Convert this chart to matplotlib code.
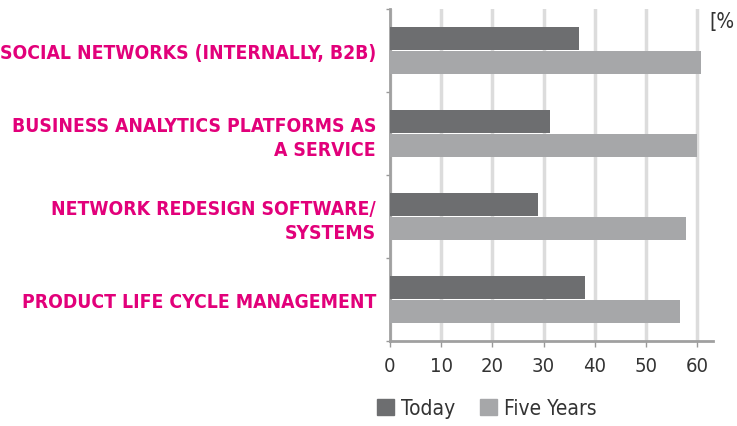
import matplotlib.pyplot as plt
import numpy as np
from matplotlib.patches import Patch

categories = [
    "SOCIAL NETWORKS (INTERNALLY, B2B)",
    "BUSINESS ANALYTICS PLATFORMS AS\nA SERVICE",
    "NETWORK REDESIGN SOFTWARE/\nSYSTEMS",
    "PRODUCT LIFE CYCLE MANAGEMENT",
]
today = [37.0, 31.2, 29.0, 38.0]
five_years = [60.7, 60.0, 57.8, 56.7]
series_names = ["Today", "Five Years"]
x_ticks = [0, 10, 20, 30, 40, 50, 60]

MAGENTA = "#e2007a"
DARK = "#6d6e70"
LIGHT = "#a6a7a9"
TEXT = "#333333"
FONT = ["DejaVu Sans", "Liberation Sans"]

fig = plt.figure(figsize=(7.37, 4.27), dpi=100)
ax = fig.add_axes([0.529, 0.199, 0.438, 0.778])

y = np.arange(len(categories))
h = 0.27
ax.barh(y - 0.145, today, height=h, color=DARK, zorder=3)
ax.barh(y + 0.145, five_years, height=h, color=LIGHT, zorder=3)

ax.set_xlim(0, 63)
ax.set_ylim(len(categories) - 0.5, -0.5)
ax.set_xticks(x_ticks)
ax.set_xticklabels([str(t) for t in x_ticks], family=FONT, fontstretch="condensed",
                   fontsize=14.5, color=TEXT)
ax.set_yticks(y)
ax.set_yticklabels(categories, family=FONT, fontstretch="condensed", fontsize=13.9,
                   fontweight="bold", color=MAGENTA, linespacing=1.3)
ax.set_yticks(np.arange(len(categories) + 1) - 0.5, minor=True)

ax.tick_params(axis="y", which="major", length=0, pad=10)
ax.tick_params(axis="y", which="minor", length=3, color="#999999", width=1)
ax.tick_params(axis="x", length=4, color="#999999", width=1, pad=7)

ax.grid(axis="x", color="#dcdcdc", linewidth=2.5, zorder=0)
for s in ["top", "right"]:
    ax.spines[s].set_visible(False)
for s in ["left", "bottom"]:
    ax.spines[s].set_color("#a0a0a0")
    ax.spines[s].set_linewidth(2)

fig.text(0.962, 0.935, "[%", family=FONT, fontstretch="condensed", fontsize=15,
         color=TEXT, ha="left")

handles = [Patch(color=DARK), Patch(color=LIGHT)]
leg = fig.legend(handles, series_names, loc="lower left", bbox_to_anchor=(0.486, -0.025),
                 ncol=2, frameon=False,
                 prop={"family": FONT, "size": 15, "stretch": "condensed"},
                 handlelength=0.8, handleheight=0.8, handletextpad=0.35, columnspacing=1.2)
for t in leg.get_texts():
    t.set_color(TEXT)

fig.savefig("out.png", dpi=100)
